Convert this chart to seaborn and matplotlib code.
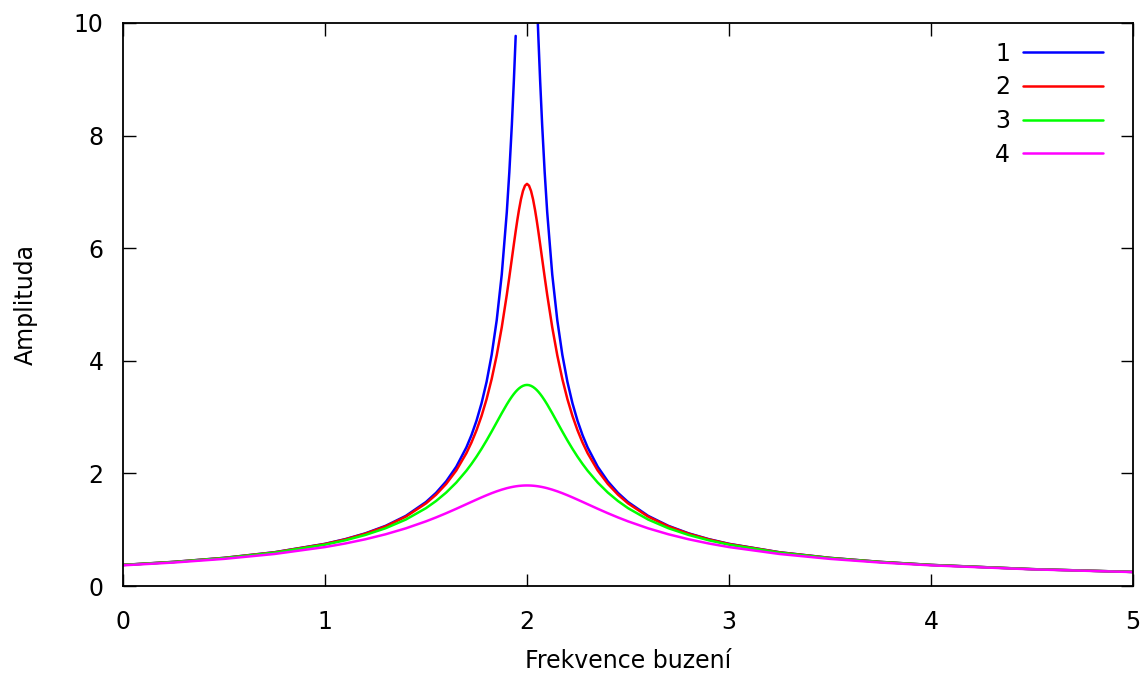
import numpy as np
import pandas as pd
import matplotlib
matplotlib.use("Agg")
import matplotlib.pyplot as plt
import seaborn as sns

# excitation frequency samples (denser around the resonance at 2)
freq = [0.0, 0.25, 0.5, 0.75, 1.0, 1.1, 1.2, 1.3, 1.4, 1.5,
        1.55, 1.6, 1.65, 1.7, 1.725, 1.75, 1.775, 1.8, 1.825, 1.85,
        1.875, 1.9, 1.9125, 1.925, 1.935, 1.944, 1.952, 1.96, 1.97, 1.98,
        1.99, 2.0,
        2.01, 2.02, 2.03, 2.04, 2.048, 2.056, 2.065, 2.075, 2.0875, 2.1,
        2.125, 2.15, 2.175, 2.2, 2.225, 2.25, 2.275, 2.3, 2.35, 2.4,
        2.45, 2.5, 2.6, 2.7, 2.8, 2.9, 3.0, 3.25, 3.5, 3.75,
        4.0, 4.5, 5.0]

nan = float("nan")
amp_1 = [0.3749, 0.4284, 0.4997, 0.5995, 0.7490, 0.8319, 0.9355, 1.0684, 1.2452, 1.4918,
         1.6554, 1.8591, 2.1191, 2.4626, 2.6789, 2.9360, 3.2462, 3.6271, 4.1049, 4.7193,
         5.5318, 6.6406, 7.3500, 8.1922, 8.9764, 9.7707, nan, nan, nan, nan,
         nan, nan,
         nan, nan, nan, nan, 10.544, 9.7707, 8.9764, 8.1922, 7.3500, 6.6406,
         5.5318, 4.7193, 4.1049, 3.6271, 3.2462, 2.9360, 2.6789, 2.4626, 2.1191, 1.8591,
         1.6554, 1.4918, 1.2452, 1.0684, 0.9355, 0.8319, 0.7490, 0.5995, 0.4997, 0.4284,
         0.3749, 0.2999, 0.2500]
amp_2 = [0.3745, 0.4278, 0.4988, 0.5979, 0.7459, 0.8277, 0.9295, 1.0596, 1.2313, 1.4680,
         1.6231, 1.8136, 2.0525, 2.3597, 2.5479, 2.7659, 3.0206, 3.3202, 3.6749, 4.0962,
         4.5942, 5.1724, 5.4873, 5.8126, 6.0734, 6.3025, 6.4963, 6.6750, 6.8681, 7.0166,
         7.1105, 7.1429,
         7.1105, 7.0166, 6.8681, 6.6750, 6.4963, 6.3025, 6.0734, 5.8126, 5.4873, 5.1724,
         4.5942, 4.0962, 3.6749, 3.3202, 3.0206, 2.7659, 2.5479, 2.3597, 2.0525, 1.8136,
         1.6231, 1.4680, 1.2313, 1.0596, 0.9295, 0.8277, 0.7459, 0.5979, 0.4988, 0.4278,
         0.3745, 0.2997, 0.2498]
amp_3 = [0.3730, 0.4255, 0.4952, 0.5917, 0.7340, 0.8115, 0.9068, 1.0262, 1.1798, 1.3830,
         1.5103, 1.6601, 1.8375, 2.0481, 2.1676, 2.2971, 2.4369, 2.5862, 2.7437, 2.9062,
         3.0689, 3.2246, 3.2967, 3.3634, 3.4117, 3.4508, 3.4816, 3.5083, 3.5355, 3.5553,
         3.5674, 3.5714,
         3.5674, 3.5553, 3.5355, 3.5083, 3.4816, 3.4508, 3.4117, 3.3634, 3.2967, 3.2246,
         3.0689, 2.9062, 2.7437, 2.5862, 2.4369, 2.2971, 2.1676, 2.0481, 1.8375, 1.6601,
         1.5103, 1.3830, 1.1798, 1.0262, 0.9068, 0.8115, 0.7340, 0.5917, 0.4952, 0.4255,
         0.3730, 0.2989, 0.2494]
amp_4 = [0.3670, 0.4167, 0.4815, 0.5687, 0.6915, 0.7552, 0.8301, 0.9188, 1.0240, 1.1486,
         1.2184, 1.2931, 1.3718, 1.4532, 1.4940, 1.5344, 1.5741, 1.6122, 1.6484, 1.6816,
         1.7115, 1.7373, 1.7482, 1.7579, 1.7647, 1.7701, 1.7742, 1.7777, 1.7812, 1.7837,
         1.7852, 1.7857,
         1.7852, 1.7837, 1.7812, 1.7777, 1.7742, 1.7701, 1.7647, 1.7579, 1.7482, 1.7373,
         1.7115, 1.6816, 1.6484, 1.6122, 1.5741, 1.5344, 1.4940, 1.4532, 1.3718, 1.2931,
         1.2184, 1.1486, 1.0240, 0.9188, 0.8301, 0.7552, 0.6915, 0.5687, 0.4815, 0.4167,
         0.3670, 0.2959, 0.2476]

labels = ["1", "2", "3", "4"]
colors = ["#0000ff", "#ff0000", "#00ff00", "#ff00ff"]
x_ticks = [0, 1, 2, 3, 4, 5]
y_ticks = [0, 2, 4, 6, 8, 10]

sns.set_theme(style="white")
plt.rcParams["font.family"] = ["DejaVu Sans"]
plt.rcParams["text.color"] = "black"
plt.rcParams["axes.labelcolor"] = "black"

fig = plt.figure(figsize=(11.47, 6.82), dpi=100)
ax = fig.add_axes([123 / 1147, 1 - 586 / 682, (1133 - 123) / 1147, (586 - 23) / 682])

series = [amp_1, amp_2, amp_3, amp_4]
for lab, col, vals in zip(labels, colors, series):
    df = pd.DataFrame({"x": freq, "y": vals})
    valid = df["y"].notna()
    seg_id = (~valid).cumsum()
    first = True
    for _, seg in df[valid].groupby(seg_id[valid]):
        sns.lineplot(data=seg, x="x", y="y", ax=ax, color=col, linewidth=1.8,
                     label=lab if first else None, sort=False, estimator=None)
        first = False

FS = 17
ax.set_xlim(0, 5)
ax.set_ylim(0, 10)
ax.set_xticks(x_ticks)
ax.set_yticks(y_ticks)
ax.set_xlabel("Frekvence buzení", fontsize=FS, labelpad=11, color="black")
ax.set_ylabel("Amplituda", fontsize=FS, labelpad=26, color="black")
ax.tick_params(axis="both", which="both", direction="in", length=9, width=1.0,
               color="black", labelsize=FS, top=True, right=True,
               bottom=True, left=True, labelcolor="black")
ax.tick_params(axis="x", pad=17)
ax.tick_params(axis="y", pad=14)
for s in ax.spines.values():
    s.set_visible(True)
    s.set_color("black")
    s.set_linewidth(1.3)

leg = ax.legend(loc="upper right", bbox_to_anchor=(0.9703, 0.967),
                frameon=False, markerfirst=False, handlelength=3.39,
                fontsize=FS, labelspacing=0.41, borderaxespad=0.0,
                borderpad=0.0, handletextpad=0.55, labelcolor="black")

fig.savefig("out.png", dpi=100)
